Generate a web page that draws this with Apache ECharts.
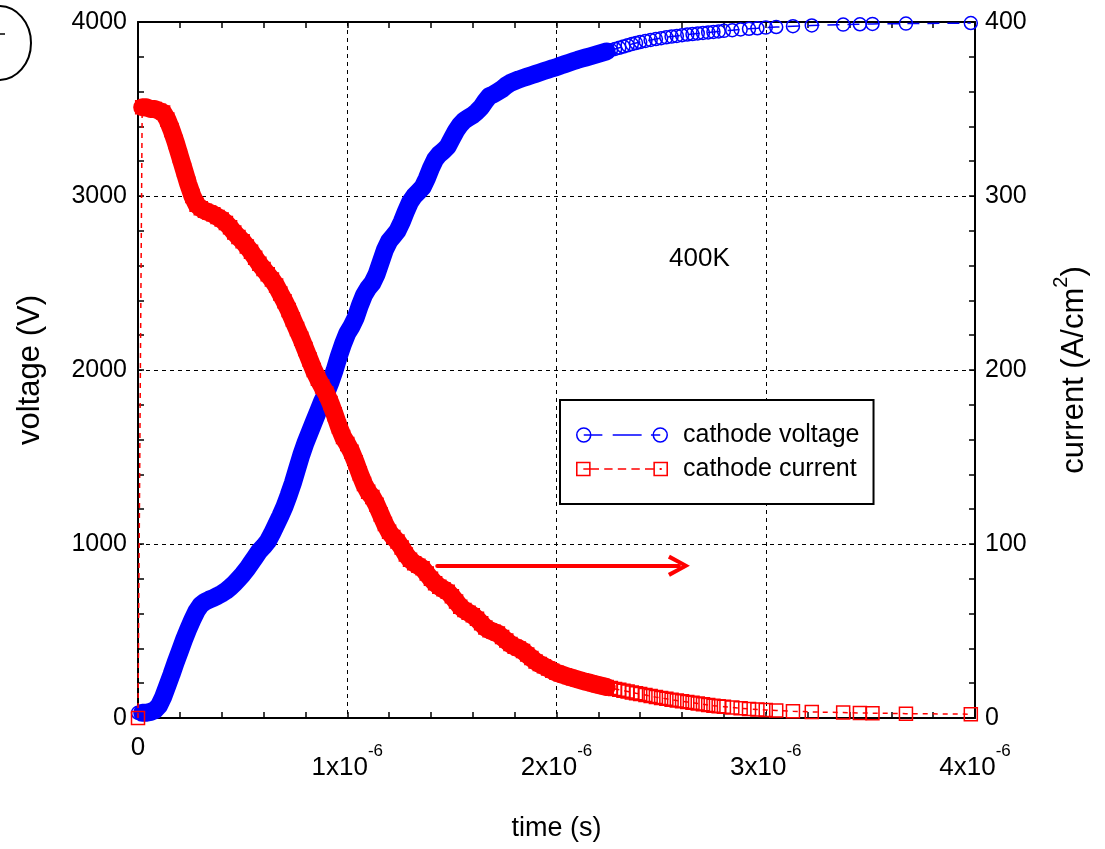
<!DOCTYPE html>
<html><head><meta charset="utf-8">
<script src="https://cdn.jsdelivr.net/npm/echarts@6/dist/echarts.min.js"></script>
<style>html,body{margin:0;padding:0;background:#fff}#c{width:1105px;height:849px}</style>
</head><body><div id="c"></div>
<script>
// ---- data (time in microseconds) ----
const timeUs = [
 0,0.02,0.04,0.06,0.08,0.10,0.12,0.14,0.16,0.18,0.20,0.22,0.24,0.26,0.28,0.30,0.32,0.34,0.36,0.38,
 0.40,0.42,0.44,0.46,0.48,0.50,0.52,0.54,0.56,0.58,0.60,0.62,0.64,0.66,0.68,0.70,0.72,0.74,0.76,0.78,
 0.80,0.82,0.84,0.86,0.88,0.90,0.92,0.94,0.96,0.98,1.00,1.02,1.04,1.06,1.08,1.10,1.12,1.14,1.16,1.18,
 1.20,1.22,1.24,1.26,1.28,1.30,1.32,1.34,1.36,1.38,1.40,1.42,1.44,1.46,1.48,1.50,1.52,1.54,1.56,1.58,
 1.60,1.62,1.64,1.66,1.68,1.70,1.72,1.74,1.76,1.78,1.80,1.82,1.84,1.86,1.88,1.90,1.92,1.94,1.96,1.98,2.00,
 2.02,2.04,2.06,2.08,2.10,2.12,2.14,2.16,2.18,2.20,2.22,2.24,2.26,2.28,2.30,2.32,2.34,2.36,2.38,2.40,
 2.425,2.45,2.475,2.50,2.525,2.55,2.575,2.60,2.625,2.65,2.675,2.70,2.725,2.75,2.775,2.80,
 2.84,2.88,2.92,2.96,3.00,3.05,3.13,3.22,3.37,3.45,3.51,3.67,3.98
];
const cathodeVoltage = [
 30,30,30,35,45,70,120,185,250,320,385,450,510,565,615,650,668,680,690,702,
 715,730,750,772,798,825,855,890,925,960,985,1015,1060,1110,1160,1215,1280,1350,1430,1510,
 1580,1640,1700,1760,1820,1870,1930,2000,2080,2150,2210,2250,2300,2370,2430,2470,2500,2550,2620,2690,
 2740,2770,2800,2850,2910,2965,3000,3025,3050,3100,3160,3210,3240,3260,3285,3330,3375,3410,3435,3450,
 3465,3485,3510,3545,3575,3585,3600,3615,3635,3650,3660,3670,3678,3686,3694,3702,3710,3718,3726,3734,3741,
 3750,3758,3766,3774,3782,3789,3796,3803,3810,3817,3824,3831,3838,3845,3852,3859,3866,3873,3879,3885,
 3891,3897,3902,3907,3912,3916,3920,3924,3928,3931,3934,3937,3940,3943,3946,3949,
 3953,3957,3961,3964,3968,3971,3976,3980,3985,3987,3989,3991,3994
];
const cathodeCurrent = [
 0,351,351,350,350,349,348,344,338,331,323,315,307,300,295,293,291.5,290.5,289.5,288,
 286.5,284.5,282,279,276.5,274,271,268,264.5,261,258,255,252,248.5,244,239.5,234.5,229,223.5,218,
 212,206,200,195,190.5,186.5,181,174.5,167.5,161.5,157.5,153,147,140.5,134.5,130,127,122.5,117,111.5,
 107,104,101.5,98,94,91,89,87.5,86,83,80,77.5,75.5,74,72.5,70,67,64,62,60.5,
 59,57,54.5,52,50.5,49.5,48.5,46.5,44.5,42.5,41,40,38.5,36.5,34.5,32.5,31,29.8,28.5,27.2,26,
 25.2,24.4,23.6,22.9,22.2,21.5,20.8,20.2,19.6,19.0,18.4,17.8,17.2,16.7,16.2,15.7,15.2,14.7,14.2,13.8,
 13.2,12.6,12.0,11.5,11.0,10.5,10.0,9.6,9.2,8.8,8.4,7.9,7.5,7.1,6.8,6.5,
 6.0,5.6,5.2,4.9,4.6,4.3,3.9,3.5,3.1,2.9,2.8,2.5,2.2
];
const xTickUs = [0, 1, 2, 3, 4];
const voltageTicks = [0, 1000, 2000, 3000, 4000];
const currentTicks = [0, 100, 200, 300, 400];
const arrowTimeUs = [1.43, 2.585];
const arrowCurrent = 87.5;
const tempLabel = '400K';
const denseLimitUs = 2.24;

// ---- build ----
const FONT = "'Liberation Sans',Arial,sans-serif";
const toS = t => t * 1e-6;
const vData = timeUs.map((t, i) => [toS(t), cathodeVoltage[i]]);
const cData = timeUs.map((t, i) => [toS(t), cathodeCurrent[i]]);
const inDense = p => p[0] > 0 && p[0] <= toS(denseLimitUs) + 1e-12;

function ring(cx, cy, ro, ri) {
  return `M${cx-ro} ${cy}A${ro} ${ro} 0 1 1 ${cx+ro} ${cy}A${ro} ${ro} 0 1 1 ${cx-ro} ${cy}Z` +
         `M${cx-ri} ${cy}A${ri} ${ri} 0 1 0 ${cx+ri} ${cy}A${ri} ${ri} 0 1 0 ${cx-ri} ${cy}Z`;
}
function bar(x1, x2, cy, t) {
  return `M${x1} ${cy-t/2}L${x2} ${cy-t/2}L${x2} ${cy+t/2}L${x1} ${cy+t/2}Z`;
}
function frame(cx, cy, h, t) {
  return `M${cx-h} ${cy-h}L${cx+h} ${cy-h}L${cx+h} ${cy+h}L${cx-h} ${cy+h}Z` +
         `M${cx-h+t} ${cy-h+t}L${cx-h+t} ${cy+h-t}L${cx+h-t} ${cy+h-t}L${cx+h-t} ${cy-h+t}Z`;
}
const voltIcon = 'path://' + ring(9, 8, 7.5, 6) + ring(83, 8, 7.5, 6) +
  bar(9, 27, 8, 1.6) + bar(37, 65, 8, 1.6) + bar(74, 83, 8, 1.6);
const curIcon = 'path://' + frame(9, 8, 7, 1.5) + frame(83, 8, 7, 1.5) +
  bar(9, 24, 8, 1.6) + bar(29, 37, 8, 1.6) + bar(42, 50, 8, 1.6) + bar(55, 63, 8, 1.6) + bar(68, 76, 8, 1.6) +
  `M82 7L84 7L84 9L82 9Z`;
const chevron = 'path://M0 20L9 0L18 20L15 22L9 8L3 22Z';

const axisLineStyle = { color: '#000', width: 2 };
const tickStyle = { color: '#000', width: 1.5 };
const gridDash = { color: '#000', width: 1, type: [4, 4] };

const chart = echarts.init(document.getElementById('c'), null, { renderer: 'canvas' });
chart.setOption({
  animation: false,
  backgroundColor: '#fff',
  grid: { left: 138, right: 130, top: 22, bottom: 131, containLabel: false },
  legend: {
    left: 560, top: 400, orient: 'vertical',
    padding: [20, 14, 20, 16], itemGap: 4, itemWidth: 92, itemHeight: 16,
    backgroundColor: '#fff', borderColor: '#000', borderWidth: 2, borderRadius: 0,
    textStyle: { fontFamily: FONT, fontSize: 25, color: '#000', lineHeight: 30, padding: [0, 0, 0, 10] },
    selectedMode: false,
    data: [
      { name: 'cathode voltage', icon: voltIcon, itemStyle: { color: '#0000ff', borderWidth: 0 } },
      { name: 'cathode current', icon: curIcon, itemStyle: { color: '#ff0000', borderWidth: 0 } }
    ]
  },
  xAxis: [{
    type: 'value', position: 'bottom', min: toS(xTickUs[0]), max: toS(xTickUs[xTickUs.length - 1]), interval: toS(1),
    axisLine: { show: true, onZero: false, lineStyle: axisLineStyle },
    axisTick: { show: true, inside: true, length: 6, lineStyle: tickStyle },
    minorTick: { show: true, splitNumber: 5, length: 6, lineStyle: tickStyle },
    splitLine: { show: true, lineStyle: gridDash },
    axisLabel: {
      margin: 21, color: '#000',
      formatter: v => { const n = Math.round(v * 1e6); return n === 0 ? '{z|0}' : '{b|' + n + 'x10}{s|-6}'; },
      rich: {
        z: { fontFamily: FONT, fontSize: 26, lineHeight: 18, color: '#000' },
        b: { fontFamily: FONT, fontSize: 26, padding: [16, 0, 0, 0], color: '#000' },
        s: { fontFamily: FONT, fontSize: 17, verticalAlign: 'top', padding: [4, 0, 0, 0], color: '#000' }
      }
    },
    name: 'time (s)', nameLocation: 'middle', nameGap: 97,
    nameTextStyle: { fontFamily: FONT, fontSize: 27, color: '#000' }
  }, {
    type: 'value', position: 'top', min: toS(xTickUs[0]), max: toS(xTickUs[xTickUs.length - 1]), interval: toS(1),
    axisLine: { show: true, onZero: false, lineStyle: axisLineStyle },
    axisTick: { show: true, inside: true, length: 6, lineStyle: tickStyle },
    minorTick: { show: true, splitNumber: 5, length: 6, lineStyle: tickStyle },
    splitLine: { show: false }, axisLabel: { show: false }
  }],
  yAxis: [{
    type: 'value', position: 'left', min: voltageTicks[0], max: voltageTicks[voltageTicks.length - 1], interval: 1000,
    axisLine: { show: true, onZero: false, lineStyle: axisLineStyle },
    axisTick: { show: true, inside: true, length: 6, lineStyle: tickStyle },
    minorTick: { show: true, splitNumber: 5, length: 6, lineStyle: tickStyle },
    splitLine: { show: true, lineStyle: gridDash },
    axisLabel: { margin: 11, color: '#000', fontFamily: FONT, fontSize: 25, formatter: v => String(v) },
    name: 'voltage (V)', nameLocation: 'middle', nameRotate: 90, nameGap: 92,
    nameTextStyle: { fontFamily: FONT, fontSize: 31, color: '#000' }
  }, {
    type: 'value', position: 'right', min: currentTicks[0], max: currentTicks[currentTicks.length - 1], interval: 100,
    axisLine: { show: true, onZero: false, lineStyle: axisLineStyle },
    axisTick: { show: true, inside: true, length: 6, lineStyle: tickStyle },
    minorTick: { show: true, splitNumber: 5, length: 6, lineStyle: tickStyle },
    splitLine: { show: false },
    axisLabel: { margin: 10, color: '#000', fontFamily: FONT, fontSize: 25, formatter: v => String(v) },
    name: '{a|current (A/cm}{s|2}{a|)}', nameLocation: 'middle', nameRotate: 90, nameGap: 76,
    nameTextStyle: {
      rich: {
        a: { fontFamily: FONT, fontSize: 31, color: '#000', padding: [8, 0, 0, 0] },
        s: { fontFamily: FONT, fontSize: 20, color: '#000', verticalAlign: 'top' }
      }
    }
  }],
  graphic: [
    { type: 'ellipse', shape: { cx: -1, cy: 43, rx: 32, ry: 37 }, style: { stroke: '#000', lineWidth: 2, fill: 'none' }, silent: true },
    { type: 'line', shape: { x1: 0, y1: 34, x2: 5, y2: 34 }, style: { stroke: '#000', lineWidth: 1.5 }, silent: true },
    { type: 'text', left: 669, top: 246, style: { text: tempLabel, fontFamily: FONT, fontSize: 26, fill: '#000' }, silent: true }
  ],
  series: [
    {
      name: 'voltage band', type: 'line', xAxisIndex: 0, yAxisIndex: 0, z: 2, silent: true,
      data: vData.filter(inDense), symbol: 'none',
      lineStyle: { color: '#0000ff', width: 18, cap: 'round', join: 'round' }
    },
    {
      name: 'cathode voltage', type: 'line', xAxisIndex: 0, yAxisIndex: 0, z: 3, silent: true,
      data: vData, symbol: 'circle', symbolSize: 13, showAllSymbol: true, clip: false,
      itemStyle: { color: 'rgba(0,0,0,0)', borderColor: '#0000ff', borderWidth: 1.5 },
      lineStyle: { color: '#0000ff', width: 1.5, type: [12, 8] }
    },
    {
      name: 'current band', type: 'line', xAxisIndex: 0, yAxisIndex: 1, z: 4, silent: true,
      data: cData.filter(inDense), symbol: 'none',
      lineStyle: { color: '#ff0000', width: 18, cap: 'round', join: 'round' }
    },
    {
      name: 'cathode current', type: 'line', xAxisIndex: 0, yAxisIndex: 1, z: 5, silent: true,
      data: cData, symbol: 'rect', symbolSize: 13, showAllSymbol: true, clip: false,
      itemStyle: { color: 'rgba(0,0,0,0)', borderColor: '#ff0000', borderWidth: 1.5 },
      lineStyle: { color: '#ff0000', width: 1.5, type: [5, 5] },
      markLine: {
        silent: true, animation: false,
        symbol: ['none', chevron], symbolSize: 22,
        label: { show: false },
        lineStyle: { color: '#ff0000', width: 4, type: 'solid', cap: 'round' },
        data: [[{ coord: [toS(arrowTimeUs[0]), arrowCurrent] }, { coord: [toS(arrowTimeUs[1]), arrowCurrent] }]]
      }
    }
  ]
});
</script></body></html>
